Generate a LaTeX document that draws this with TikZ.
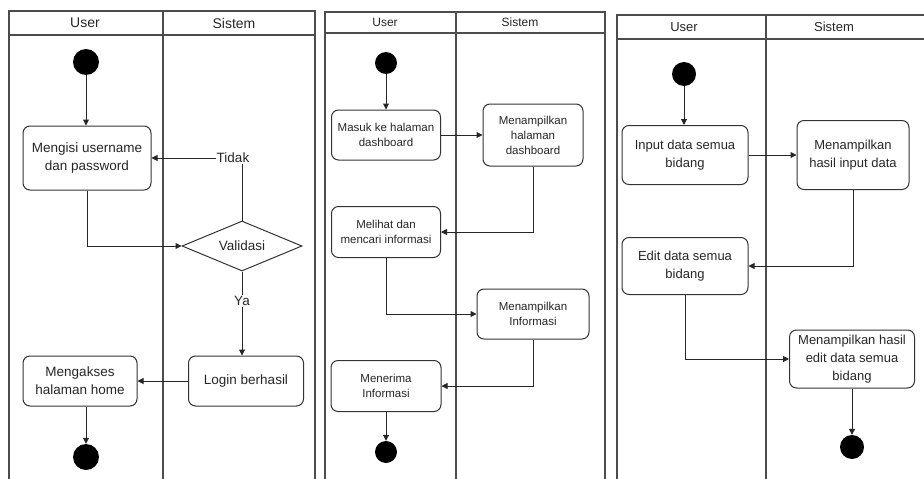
\documentclass[tikz,border=0pt]{standalone}
\usepackage{fontspec}
\setmainfont{Liberation Sans}
\usetikzlibrary{arrows.meta,shapes.geometric}
\begin{document}
\begin{tikzpicture}[x=1pt,y=-1pt,
 lane/.style={draw=black!70,line width=1.3pt},
 act/.style={draw=black!80,line width=1pt,rounded corners=7pt,align=center,inner sep=0pt,text=black!85},
 dot/.style={circle,fill=black,inner sep=0pt},
 flow/.style={draw=black!85,line width=1pt,-{Triangle[length=6pt,width=6pt]}},
 lbl/.style={fill=white,inner sep=1pt,text=black!85},
 fa/.style={font=\fontsize{13.5}{18}\selectfont},
 fb/.style={font=\fontsize{11.5}{15}\selectfont},
 fc/.style={font=\fontsize{13}{18}\selectfont},
 hdr/.style={text=black!85,inner sep=0pt},
]
\useasboundingbox (0,0) rectangle (924,479);
% ---------------- Diagram 1 ----------------
\draw[lane] (9,479) -- (9,11) -- (315,11) -- (315,479);
\draw[lane] (9,35) -- (315,35);
\draw[lane] (163,11) -- (163,479);
\node[hdr,font=\fontsize{14}{16}\selectfont] (h1u) at (85,23) {User};
\node[hdr,font=\fontsize{14}{16}\selectfont] (h1s) at (234,23) {Sistem};
\node[dot,minimum size=26pt] (s1) at (86,62) {};
\node[act,fa,minimum width=128pt,minimum height=64pt] (a1) at (87,158) {Mengisi username\\dan password};
\node[draw=black!80,line width=1pt,diamond,aspect=2.4,inner sep=0pt,minimum width=120pt,minimum height=50pt,fa,text=black!85] (dd) at (242,246) {Validasi};
\node[act,fa,minimum width=115pt,minimum height=50pt] (a2) at (246,381) {Login berhasil};
\node[act,fa,minimum width=114pt,minimum height=50pt] (a3) at (80,381) {Mengakses\\halaman home};
\node[dot,minimum size=26pt] (e1) at (86,457) {};
\draw[flow] (s1) -- (s1|-a1.north);
\draw[flow] (a1.south) |- (dd.west);
\draw[flow] (dd.north) |- (a1.east) node[pos=0.5,lbl,fa,xshift=-9pt] (t1) {Tidak};
\draw[flow] (dd.south) -- (dd.south|-a2.north) node[pos=0.35,lbl,fa] (y1) {Ya};
\draw[flow] (a2.west) -- (a3.east);
\draw[flow] (e1.north|-a3.south) -- (e1);
% ---------------- Diagram 2 ----------------
\draw[lane] (325,479) -- (325,12) -- (605,12) -- (605,479);
\draw[lane] (325,33) -- (605,33);
\draw[lane] (456,12) -- (456,479);
\node[hdr,font=\fontsize{12}{14}\selectfont] (h2u) at (385,22) {User};
\node[hdr,font=\fontsize{12}{14}\selectfont] (h2s) at (520,22) {Sistem};
\node[dot,minimum size=22pt] (s2) at (386,63) {};
\node[act,fb,minimum width=109pt,minimum height=50pt] (b1) at (386,135) {Masuk ke halaman\\dashboard};
\node[act,fb,minimum width=100pt,minimum height=62pt] (b2) at (533,135) {Menampilkan\\halaman\\dashboard};
\node[act,fb,minimum width=109pt,minimum height=51pt] (b3) at (386,232) {Melihat dan\\mencari informasi};
\node[act,fb,minimum width=112pt,minimum height=50pt] (b4) at (533,314) {Menampilkan\\Informasi};
\node[act,fb,minimum width=110pt,minimum height=51pt] (b5) at (386,386) {Menerima\\Informasi};
\node[dot,minimum size=22pt] (e2) at (386,452) {};
\draw[flow] (s2) -- (b1);
\draw[flow] (b1.east) -- (b2.west);
\draw[flow] (b2.south) |- (b3.east);
\draw[flow] (b3.south) |- (b4.west);
\draw[flow] (b4.south) |- (b5.east);
\draw[flow] (b5) -- (e2);
% ---------------- Diagram 3 ----------------
\draw[lane] (617,479) -- (617,15) -- (924,15);
\draw[lane] (617,39) -- (924,39);
\draw[lane] (766,15) -- (766,479);
\node[hdr,font=\fontsize{13}{15}\selectfont] (h3u) at (684,27) {User};
\node[hdr,font=\fontsize{13}{15}\selectfont] (h3s) at (834,27) {Sistem};
\node[dot,minimum size=24pt] (s3) at (684,74) {};
\node[act,fc,minimum width=126pt,minimum height=59pt] (c1) at (685,155) {Input data semua\\bidang};
\node[act,fc,minimum width=112pt,minimum height=69pt] (c2) at (853,155) {Menampilkan\\hasil input data};
\node[act,fc,minimum width=126pt,minimum height=57pt] (c3) at (685,266) {Edit data semua\\bidang};
\node[act,fc,minimum width=125pt,minimum height=58pt] (c4) at (852,359) {Menampilkan hasil\\edit data semua\\bidang};
\node[dot,minimum size=24pt] (e3) at (852,447) {};
\draw[flow] (s3) -- (s3|-c1.north);
\draw[flow] (c1.east) -- (c2.west);
\draw[flow] (c2.south) |- (c3.east);
\draw[flow] (c3.south) |- (c4.west);
\draw[flow] (c4) -- (e3);
\end{tikzpicture}
\end{document}
